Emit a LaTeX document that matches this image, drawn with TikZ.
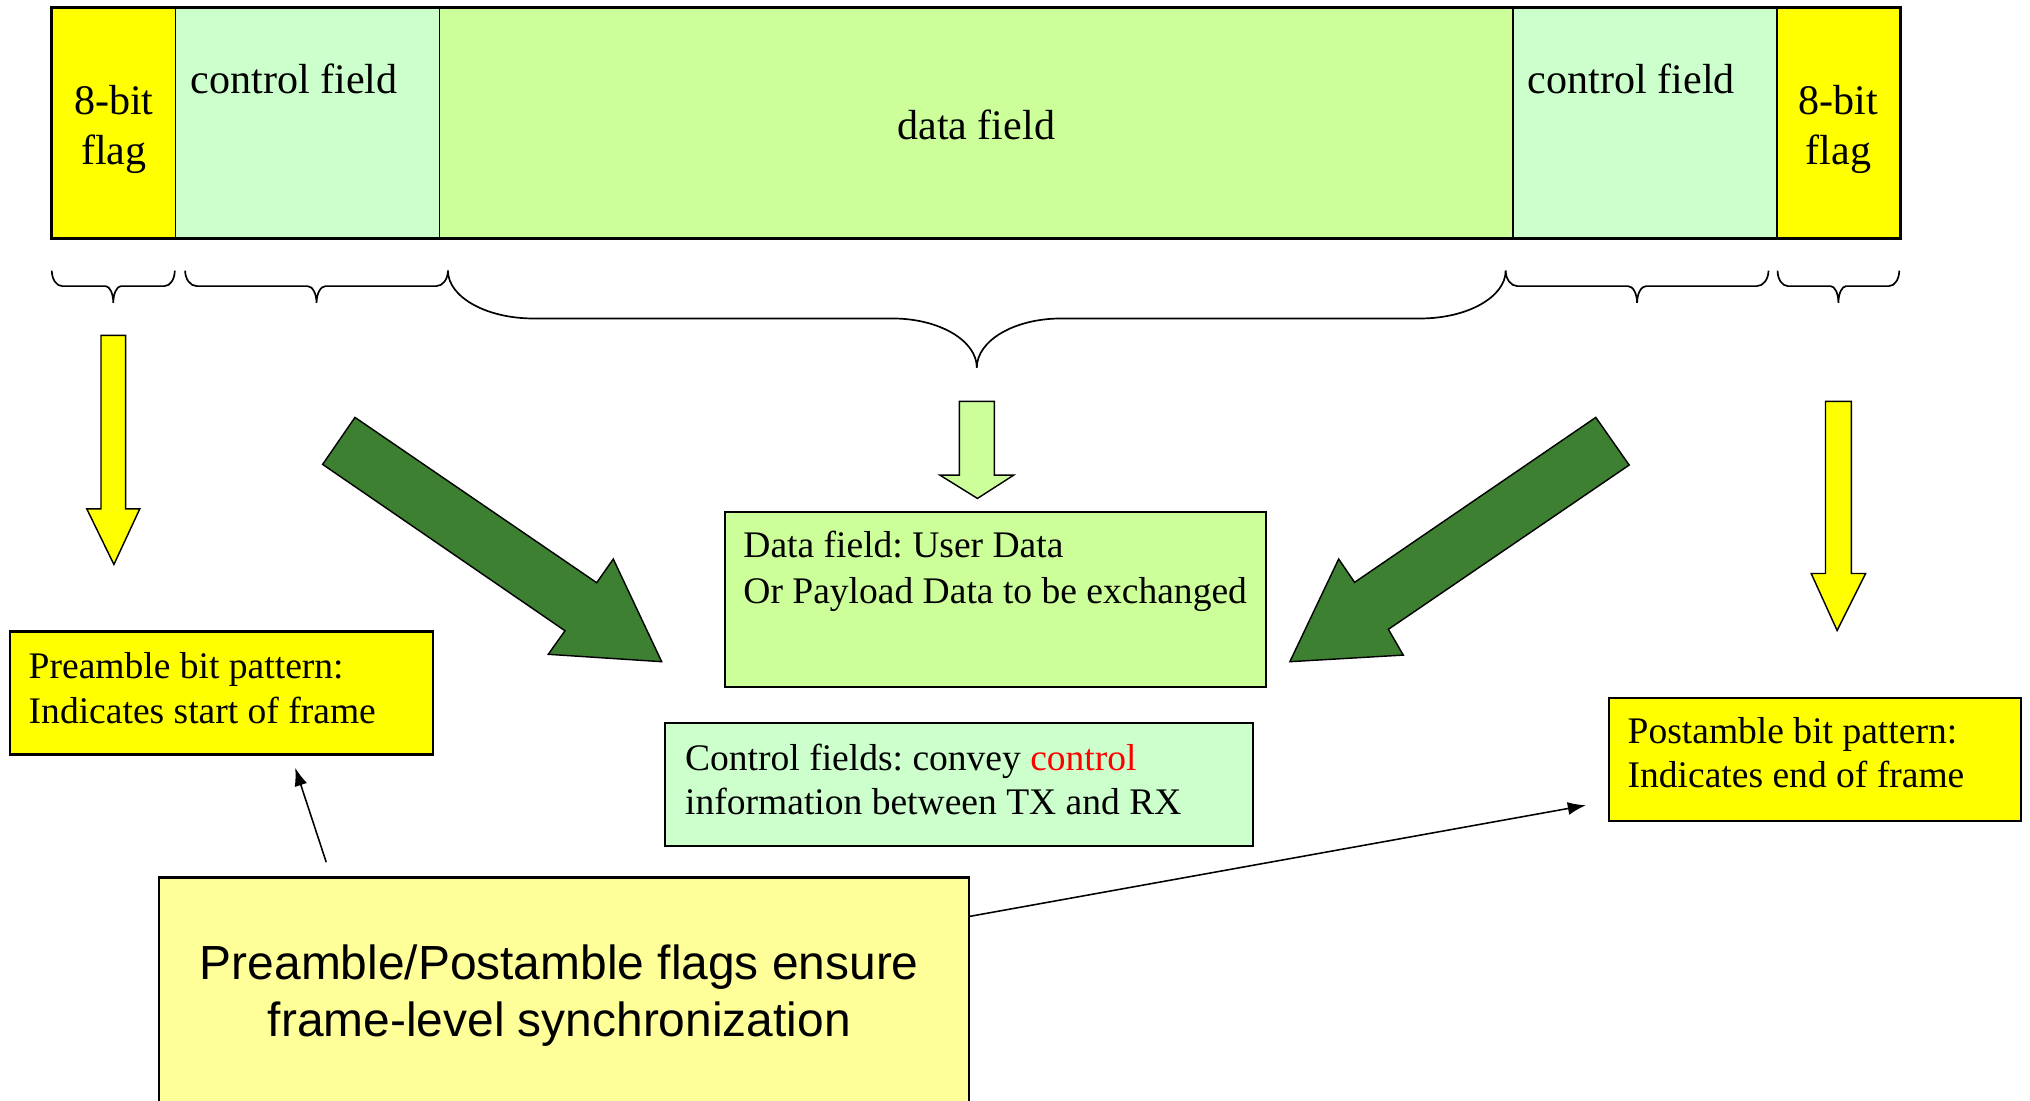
\documentclass[tikz,border=0pt]{standalone}
\usepackage{fontspec}
\setmainfont{Liberation Serif}
\newfontfamily\arialf{Liberation Sans}
\usetikzlibrary{arrows.meta}
\frenchspacing
\definecolor{flagyellow}{RGB}{255,255,0}
\definecolor{ctrlgreen}{RGB}{204,255,204}
\definecolor{datagreen}{RGB}{204,255,153}
\definecolor{darkgreen}{RGB}{61,128,50}
\definecolor{paleyellow}{RGB}{255,255,153}
\definecolor{ctrlred}{RGB}{255,0,0}

\newcommand{\hbracepath}[7]{% x1, x2, ytop, ymid, ytip, end radius, tip half width
  \pgfmathsetmacro\bxc{(#1+#2)/2}
  \pgfmathsetmacro\bya{#3+0.552*(#4-#3)}
  \pgfmathsetmacro\bxa{#1+#6}
  \pgfmathsetmacro\bxb{#1+#6-0.552*#6}
  \pgfmathsetmacro\bxd{\bxc-#7}
  \pgfmathsetmacro\bxe{\bxc-#7+0.552*#7}
  \pgfmathsetmacro\byt{#5-0.552*(#5-#4)}
  \pgfmathsetmacro\bxf{\bxc+#7}
  \pgfmathsetmacro\bxg{\bxc+#7-0.552*#7}
  \pgfmathsetmacro\bxh{#2-#6}
  \pgfmathsetmacro\bxi{#2-#6+0.552*#6}
  \draw[bracestyle] (#1,#3) .. controls (#1,\bya) and (\bxb,#4) .. (\bxa,#4)
    -- (\bxd,#4) .. controls (\bxe,#4) and (\bxc,\byt) .. (\bxc,#5)
    .. controls (\bxc,\byt) and (\bxg,#4) .. (\bxf,#4)
    -- (\bxh,#4) .. controls (\bxi,#4) and (#2,\bya) .. (#2,#3);
}

\begin{document}
\begin{tikzpicture}[x=1pt,y=-1pt,
  field/.style={rectangle, draw=black, line width=1.1, inner sep=0, anchor=north west},
  bartext/.style={inner sep=0, font=\fontsize{32.5}{39}\selectfont},
  boxtext/.style={inner sep=0, anchor=north west, align=left},
  infobox/.style={rectangle, draw=black, line width=1.6, inner sep=0, anchor=north west},
  bracestyle/.style={line width=1.3, black},
  yarrow/.style={draw=black, line width=1.1, fill=flagyellow},
  garrow/.style={draw=black, line width=1.1, fill=darkgreen},
  larrow/.style={draw=black, line width=1.1, fill=datagreen},
  thinarrow/.style={line width=1.2, -{Latex[length=14,width=10]}}
]
\useasboundingbox (0,0) rectangle (1568,850);
\clip (0,0) rectangle (1568,850);
\fill[white] (0,0) rectangle (1568,850);

% ---- frame bar ----
\node[field, fill=flagyellow, minimum width=95, minimum height=177] (flagL) at (40,6) {};
\node[field, fill=ctrlgreen, minimum width=204, minimum height=177] (ctrlL) at (135,6) {};
\node[field, fill=datagreen, minimum width=829, minimum height=177] (data) at (339,6) {};
\node[field, fill=ctrlgreen, minimum width=204, minimum height=177] (ctrlR) at (1168,6) {};
\node[field, fill=flagyellow, minimum width=95, minimum height=177] (flagR) at (1372,6) {};
\draw[line width=2] (flagL.north west) rectangle (flagR.south east);

\node[bartext, anchor=north, align=center] (flagLt) at (88,65.5) {8-bit\\flag};
\node[bartext, anchor=north, align=center] (flagRt) at (1420,65.5) {8-bit\\flag};
\node[bartext, anchor=base west] (ctrlLt) at (147,72) {control field};
\node[bartext, anchor=base west] (ctrlRt) at (1180,72) {control field};
\node[bartext, anchor=base] (datat) at (754,108) {data field};

% ---- braces ----
\hbracepath{40}{135}{209}{221}{234}{8}{6}
\hbracepath{143}{346}{209}{221}{234}{9}{7}
\hbracepath{346}{1163}{209}{246}{284}{66}{65}
\hbracepath{1163}{1366}{209}{221}{234}{9}{7}
\hbracepath{1373}{1467}{209}{221}{234}{8}{6}

% ---- block arrows ----
\draw[yarrow] (78,259) -- (97,259) -- (97,393) -- (108,393) -- (88,436) -- (67,393) -- (78,393) -- cycle;
\draw[yarrow] (1410,310) -- (1430,310) -- (1430,443) -- (1441,443) -- (1419,487) -- (1399,443) -- (1410,443) -- cycle;
\draw[larrow] (741,310) -- (768,310) -- (768,367) -- (783,367) -- (755,385) -- (726,367) -- (741,367) -- cycle;
\draw[garrow] (274.2,322.4) -- (460.9,450.1) -- (473.7,431.8) -- (511.1,511.1) -- (423.5,505.4) -- (436.4,487.2) -- (249.2,358.7) -- cycle;
\draw[garrow] (1232.6,322.4) -- (1258.4,359.2) -- (1072.4,486.1) -- (1083.9,506) -- (996.3,511.1) -- (1034,431.8) -- (1046.3,449.8) -- cycle;

% ---- info boxes ----
\node[infobox, fill=datagreen, minimum width=418, minimum height=135] (databox) at (559,395) {};
\node[boxtext, font=\fontsize{29}{35}\selectfont] (databoxt) at (574,410.2) {Data field: User Data\\Or Payload Data to be exchanged};

\node[infobox, fill=ctrlgreen, minimum width=454, minimum height=95] (ctrlbox) at (513,558) {};
\node[boxtext, font=\fontsize{29}{34}\selectfont] (ctrlboxt) at (529,574.2) {Control fields: convey \textcolor{ctrlred}{control}\\information between TX and RX};

\node[infobox, fill=flagyellow, minimum width=327, minimum height=95] (prebox) at (7,487) {};
\node[boxtext, font=\fontsize{29}{34.5}\selectfont] (preboxt) at (22,503.7) {Preamble bit pattern:\\Indicates start of frame};

\node[infobox, fill=flagyellow, minimum width=318, minimum height=95] (postbox) at (1242,538) {};
\node[boxtext, font=\fontsize{29}{34}\selectfont] (postboxt) at (1257,554.2) {Postamble bit pattern:\\Indicates end of frame};

\node[infobox, fill=paleyellow, minimum width=626, minimum height=200] (syncbox) at (122,677) {};
\node[inner sep=0, anchor=north, align=center, font=\arialf\fontsize{37}{44}\selectfont] (syncboxt) at (432,729.5) {Preamble/Postamble flags ensure\\frame-level synchronization};

% ---- thin arrows ----
\coordinate (preS) at (252,666);
\coordinate (preE) at (228,593);
\coordinate (postS) at (748,708);
\coordinate (postE) at (1225,622);
\draw[thinarrow] (preS) -- (preE);
\draw[thinarrow] (postS) -- (postE);
\end{tikzpicture}
\end{document}
